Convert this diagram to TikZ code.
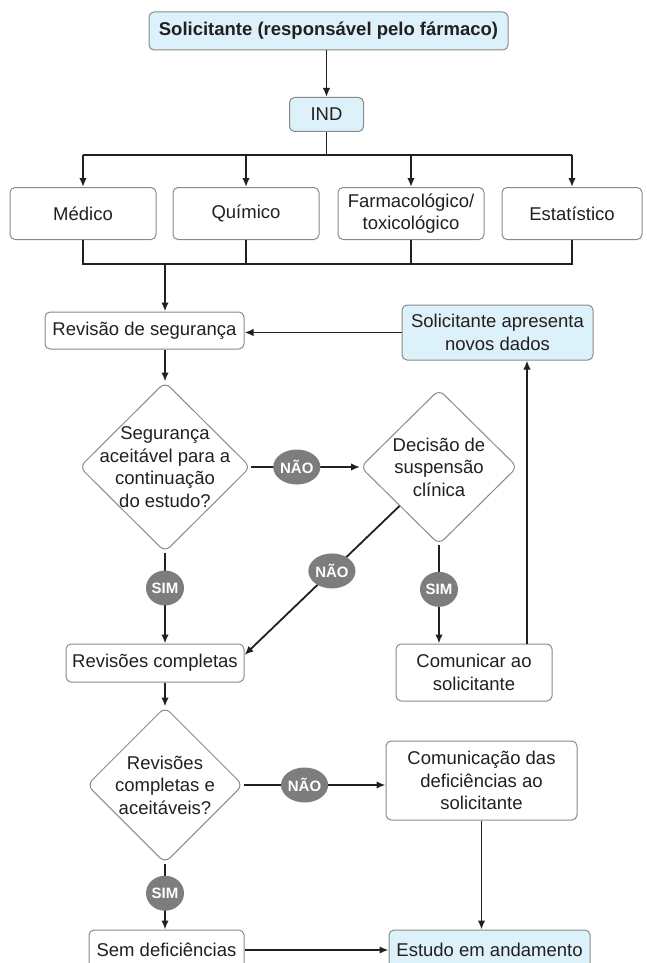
\documentclass[tikz,border=0pt]{standalone}
\usepackage{fontspec}
\setmainfont{Liberation Sans}
\usetikzlibrary{shapes.geometric,arrows.meta,calc}
\definecolor{boxblue}{HTML}{DDF1FA}
\definecolor{edgegray}{HTML}{8A8A8A}
\definecolor{tagray}{HTML}{7D7D7D}
\definecolor{ink}{HTML}{231F20}

\begin{document}
\begin{tikzpicture}[x=1pt,y=-1pt,
  box/.style={draw=edgegray, line width=1pt, rounded corners=5pt, fill=white,
    inner sep=0pt, align=center, text=ink, font=\fontsize{18.5}{22.5}\selectfont},
  bluebox/.style={box, fill=boxblue},
  decision/.style={diamond, draw=edgegray, line width=1pt, rounded corners=7pt,
    fill=white, inner sep=0pt},
  dtext/.style={align=center, text=ink, font=\fontsize{18.5}{22.5}\selectfont, inner sep=0pt},
  tag/.style={ellipse, fill=tagray, text=white, font=\fontsize{15}{15}\bfseries\selectfont,
    minimum width=38pt, minimum height=35pt, inner sep=0pt},
  arr/.style={line width=1.8pt, draw=ink, -{Latex[length=9pt,width=7.5pt]}},
  wire/.style={line width=1.8pt, draw=ink}]

\fill[white] (0,0) rectangle (646,963);
\useasboundingbox (0,0) rectangle (646,963);

% top: applicant and IND
\node[bluebox, minimum width=359pt, minimum height=38pt,
  font=\fontsize{18.5}{22.5}\bfseries\selectfont] (sol) at (328.5,31) {Solicitante (responsável pelo fármaco)};
\node[bluebox, minimum width=74pt, minimum height=34pt] (ind) at (326.5,114.5) {IND};

% review disciplines
\node[box, minimum width=146pt, minimum height=52pt] (med) at (83,213.5) {Médico};
\node[box, minimum width=146pt, minimum height=52pt] (qui) at (246,213.5) {Químico};
\node[box, minimum width=146pt, minimum height=52pt] (far) at (411,213.5) {Farmacológico/\\toxicológico};
\node[box, minimum width=140pt, minimum height=52pt] (est) at (572,213.5) {Estatístico};

% safety review loop
\node[box, minimum width=199pt, minimum height=37pt] (rs) at (144.5,330.5) {Revisão de segurança};
\node[bluebox, minimum width=191pt, minimum height=55pt] (sap) at (497.5,332.5) {Solicitante apresenta\\novos dados};

\node[decision, minimum width=171pt, minimum height=170pt] (d1) at (165,467) {};
\node[dtext] (d1t) at (165,467) {Segurança\\aceitável para a\\continuação\\do estudo?};
\node[decision, minimum width=157pt, minimum height=155pt] (d2) at (439,467) {};
\node[dtext] (d2t) at (439,467) {Decisão de\\suspensão\\clínica};

\node[box, minimum width=178pt, minimum height=38pt] (rc) at (155,663) {Revisões completas};
\node[box, minimum width=156pt, minimum height=57pt] (cas) at (474,672.5) {Comunicar ao\\solicitante};

% completeness check
\node[decision, minimum width=156pt, minimum height=156pt] (d3) at (165,785) {};
\node[dtext] (d3t) at (165,785) {Revisões\\completas e\\aceitáveis?};
\node[box, minimum width=191pt, minimum height=79pt] (cds) at (481.5,780.5) {Comunicação das\\deficiências ao\\solicitante};

\node[box, minimum width=155pt, minimum height=40pt] (sd) at (166.5,950) {Sem deficiências};
\node[bluebox, minimum width=201pt, minimum height=40pt] (eda) at (489.5,950) {Estudo em andamento};

% connectors: top part
\coordinate (bus1) at (326.5,155);
\coordinate (bus2) at (165,264);
\coordinate (up) at (527,0);

\draw[arr] (sol.south -| ind) -- (ind.north);
\draw[wire] (ind.south) -- (bus1);
\draw[wire] (med.north |- bus1) -- (est.north |- bus1);
\foreach \n in {med,qui,far,est}
  \draw[arr] (\n.north |- bus1) -- (\n.north);
\draw[wire] (med.south) -- (med.south |- bus2) -- (est.south |- bus2) -- (est.south);
\draw[wire] (qui.south) -- (qui.south |- bus2);
\draw[wire] (far.south) -- (far.south |- bus2);
\draw[arr] (bus2) -- (bus2 |- rs.north);

% safety review
\draw[arr] (sap.west) -- (sap.west -| rs.east);
\draw[arr] (rs.south -| d1) -- (d1.north);
\draw[arr] (d1.east) -- node[tag, pos=0.42] (t1) {NÃO} (d2.west);
\draw[arr] (d1.south) -- node[tag, pos=0.39] (t2) {SIM} (d1.south |- rc.north);
\draw[arr] (d2.south west) -- node[tag, pos=0.436] (t3) {NÃO} ([yshift=8pt]rc.east);
\draw[arr] (d2.south) -- node[tag, pos=0.45] (t4) {SIM} (d2.south |- cas.north);
\draw[arr] (cas.north -| up) -- (sap.south -| up);

% completeness
\draw[arr] (rc.south -| d3) -- (d3.north);
\draw[arr] (d3.east) -- node[tag, pos=0.43] (t5) {NÃO} (d3.east -| cds.west);
\draw[arr] (d3.south) -- node[tag, pos=0.45] (t6) {SIM} (d3.south |- sd.north);
\draw[arr] (cds.south) -- (cds.south |- eda.north);
\draw[arr] (sd.east) -- (eda.west);

\end{tikzpicture}
\end{document}
